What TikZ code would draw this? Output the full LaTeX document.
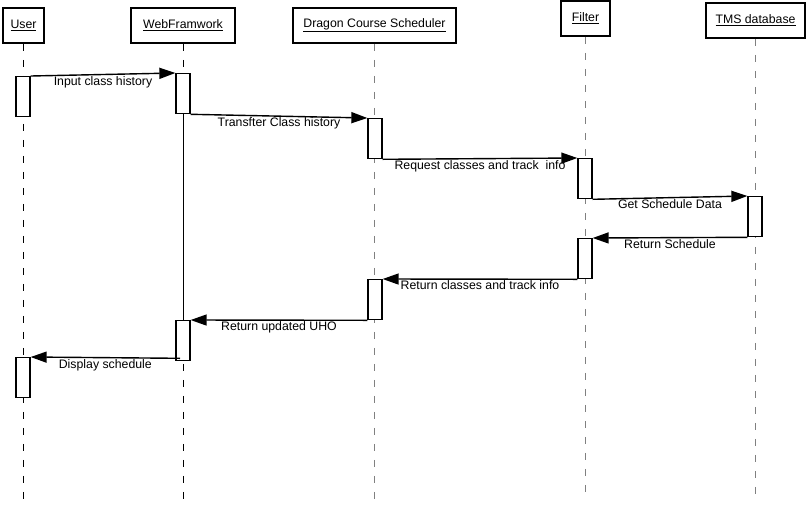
\documentclass[tikz,border=0pt]{standalone}
\usepackage{fontspec}
\setmainfont{Liberation Sans}
\usetikzlibrary{arrows.meta, calc}

\begin{document}
\begin{tikzpicture}[x = 1pt, y = -1pt, font = \fontsize{12.3}{14}\selectfont,
        actor/.style = {draw, line width = 1.6pt, fill = white, minimum height = 35pt, inner xsep = 4pt},
        bar/.style = {draw, line width = 1.3pt, fill = white, minimum width = 14pt, minimum height = 40pt, inner sep = 0pt, anchor = north},
        life/.style = {dash pattern = on 7pt off 9pt, line width = 0.9pt},
        msg/.style = {-{Triangle[length = 16pt, width = 11pt]}, line width = 1.4pt},
        lbl/.style = {midway, below, inner sep = 1pt}] % Course scheduler sequence
    \useasboundingbox (0, 0) rectangle (808, 504);
    \coordinate (ends) at (0, 500);

    % Participants
    \node[actor, minimum width = 41pt] (user) at (23.5, 25.5) {\underline{User}};
    \node[actor, minimum width = 104pt] (web) at (183, 25.5) {\underline{WebFramwork}};
    \node[actor, minimum width = 163pt] (dcs) at (374.5, 25.5) {\underline{Dragon Course Scheduler}};
    \node[actor, minimum width = 49pt] (filter) at (585.5, 18.5) {\underline{Filter}};
    \node[actor, minimum width = 99pt] (tms) at (755.5, 20.5) {\underline{TMS database}};

    % Lifelines
    \draw[life] (user.south) -- (user.south |- ends);
    \draw[life] (web.south) -- (web.south |- ends);
    \draw[life, gray] (dcs.south) -- (dcs.south |- ends);
    \draw[life, gray] (filter.south) -- (filter.south |- ends);
    \draw[life, gray] (tms.south) -- (tms.south |- ends);

    % Activations
    \node[bar] (ub1) at (23, 76) {};
    \node[bar] (wb1) at (183, 73) {};
    \node[bar] (db1) at (375, 118) {};
    \node[bar] (fb1) at (585, 158) {};
    \node[bar] (tb1) at (755, 196) {};
    \node[bar] (fb2) at (585, 238) {};
    \node[bar] (db2) at (375, 279) {};
    \node[bar] (wb2) at (183, 320) {};
    \node[bar] (ub2) at (23, 357) {};
    \draw[line width = 0.8pt] (wb1.south) -- (wb2.north);

    % Messages
    \draw[msg] (ub1.north east) -- (wb1.north west) node[lbl] {Input class history};
    \draw[msg] (wb1.south east) -- (db1.north west) node[lbl] {Transfter Class history};
    \draw[msg] (db1.south east) -- (fb1.north west) node[lbl] {Request classes and track\ \ info};
    \draw[msg] (fb1.south east) -- (tb1.north west) node[lbl] {Get Schedule Data};
    \draw[msg] (tb1.south west) -- (fb2.north east) node[lbl] {Return Schedule};
    \draw[msg] (fb2.south west) -- (db2.north east) node[lbl] {Return classes and track info};
    \draw[msg] (db2.south west) -- (wb2.north east) node[lbl] {Return updated UHO};
    \draw[msg] ($(wb2.south) + (-3, -3)$) -- (ub2.north east) node[lbl] {Display schedule};
\end{tikzpicture}
\end{document}
